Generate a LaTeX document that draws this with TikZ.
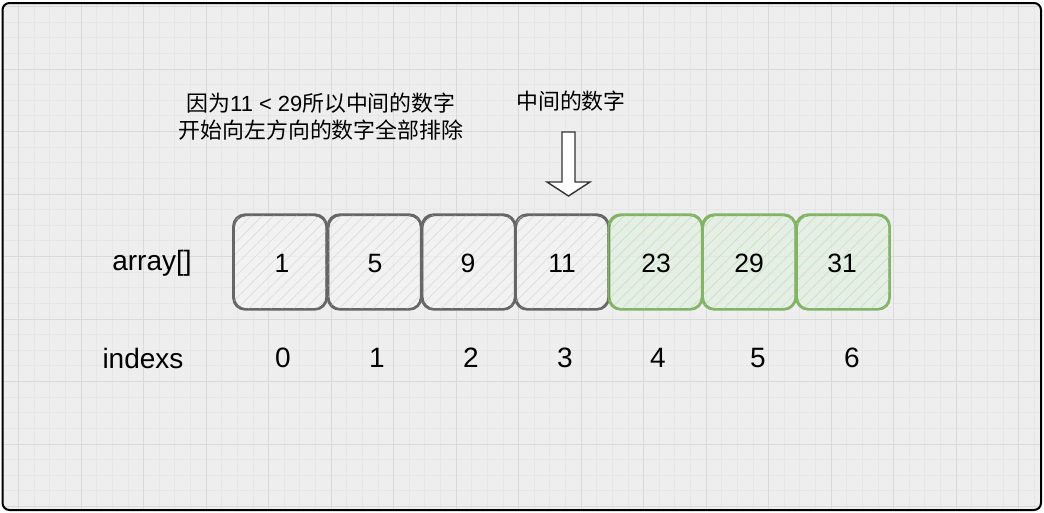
\documentclass[tikz,border=0pt]{standalone}
\usepackage{fontspec}
\setmainfont{Liberation Sans}
\newfontfamily\cjk{Noto Sans CJK SC}
\usetikzlibrary{patterns.meta}
\definecolor{bg}{RGB}{238,238,238}
\definecolor{gridminor}{RGB}{230,230,230}
\definecolor{gridmajor}{RGB}{218,218,218}
\definecolor{graystroke}{RGB}{102,102,102}
\definecolor{grayfill}{RGB}{245,245,245}
\definecolor{grayhatch}{RGB}{220,220,220}
\definecolor{greenstroke}{RGB}{130,179,102}
\definecolor{greenfill}{RGB}{228,240,226}
\definecolor{greenhatch}{RGB}{196,226,192}
\tikzset{
  cell/.style={draw=graystroke, line width=1.6pt, rounded corners=12pt,
    minimum width=92.5pt, minimum height=94pt, inner sep=0pt,
    fill=grayfill, fill opacity=0.7, text opacity=1},
  greencell/.style={cell, draw=greenstroke, fill=greenfill},
  hatchgray/.style={pattern={Lines[angle=45,distance=8pt,line width=0.7pt]}, pattern color=grayhatch},
  hatchgreen/.style={pattern={Lines[angle=45,distance=8pt,line width=0.7pt]}, pattern color=greenhatch},
  lbl/.style={font=\fontsize{28}{32}\selectfont, inner sep=0pt},
  val/.style={font=\fontsize{26.5}{30}\selectfont, inner sep=0pt},
  cjktext/.style={font=\cjk\fontsize{21.9}{27}\selectfont, inner sep=0pt, align=center},
}
\begin{document}
\begin{tikzpicture}[x=1pt,y=-1pt]
\useasboundingbox (0,0) rectangle (1044,512);
\fill[white] (0,0) rectangle (1044,512);
% frame background and grid
\begin{scope}
\clip[rounded corners=7pt] (2.5,3) rectangle (1041,510);
\fill[bg] (0,0) rectangle (1044,512);
\foreach \i in {0,...,67}{
  \draw[gridminor, line width=0.8pt] ({3+15.625*\i},0) -- ({3+15.625*\i},512);
}
\foreach \j in {0,...,33}{
  \draw[gridminor, line width=0.8pt] (0,{6.5+15.625*\j}) -- (1044,{6.5+15.625*\j});
}
\foreach \i in {0,...,17}{
  \draw[gridmajor, line width=0.9pt] ({18.5+62.5*\i},0) -- ({18.5+62.5*\i},512);
}
\foreach \j in {0,...,8}{
  \draw[gridmajor, line width=0.9pt] (0,{6.5+62.5*\j}) -- (1044,{6.5+62.5*\j});
}
\end{scope}
\draw[black, line width=2pt, rounded corners=7pt] (2.5,3) rectangle (1041,510);

% cells
\node[cell] (c0) at (280,262) {};
\node[cell] (c1) at (374.5,262) {};
\node[cell] (c2) at (468.5,262) {};
\node[cell] (c3) at (562,262) {};
\node[greencell] (c4) at (655.5,262) {};
\node[greencell] (c5) at (749,262) {};
\node[greencell] (c6) at (843,262) {};
\foreach \n in {c0,c1,c2,c3}{
  \fill[hatchgray, rounded corners=12pt] (\n.south west) rectangle (\n.north east);
}
\foreach \n in {c4,c5,c6}{
  \fill[hatchgreen, rounded corners=12pt] (\n.south west) rectangle (\n.north east);
}
\foreach \n in {c0,c1,c2,c3}{
  \draw[graystroke, line width=1.6pt, rounded corners=12pt] (\n.south west) rectangle (\n.north east);
  \draw[graystroke, line width=0.8pt, rounded corners=12pt] ([shift={(1.5,-1)}]\n.south west) rectangle ([shift={(-1,1.5)}]\n.north east);
}
\foreach \n in {c4,c5,c6}{
  \draw[greenstroke, line width=1.6pt, rounded corners=12pt] (\n.south west) rectangle (\n.north east);
  \draw[greenstroke, line width=0.8pt, rounded corners=12pt] ([shift={(1.5,-1)}]\n.south west) rectangle ([shift={(-1,1.5)}]\n.north east);
}
\foreach \n/\v/\x in {c0/1/282,c1/5/375,c2/9/468,c3/11/562,c4/23/656,c5/29/749,c6/31/842}{
  \node[val] (v\n) at (\x,263.5) {\v};
}

% labels
\node[lbl] (arr) at (152,263) {array[]};
\node[lbl] (idx) at (143,358) {indexs};
\foreach \k/\x in {0/283,1/377,2/471,3/565,4/658,5/758,6/852}{
  \node[lbl] (i\k) at (\x,358) {\k};
}

% texts
\node[cjktext] (note) at (321,117) {因为{\fontspec{Liberation Sans}11 < 29}所以中间的数字\\开始向左方向的数字全部排除};
\node[cjktext] (mid) at (571,101) {中间的数字};

% block arrow
\coordinate (atip) at (568.5,196);
\draw[fill=white, draw=black!80, line width=1.4pt, line join=miter]
  (562,132) -- (575,132) -- (575,182) -- (590,182) -- (atip) -- (547,182) -- (562,182) -- cycle;
\end{tikzpicture}
\end{document}
